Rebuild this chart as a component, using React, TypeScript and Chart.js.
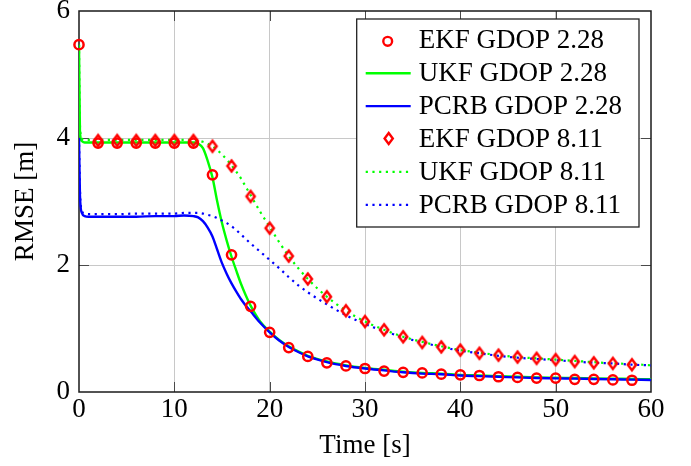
import React, { useEffect, useRef } from 'react';
import { Chart, registerables } from 'chart.js';

Chart.register(...registerables);

const FONT_FAMILY = '"Liberation Serif", "Times New Roman", Times, serif';
const FONT_SIZE = 27;

// ---- data ----
const xTickValues = [0, 10, 20, 30, 40, 50, 60];
const yTickValues = [0, 2, 4, 6];

const tCircle = [0, 2, 4, 6, 8, 10, 12, 14, 16, 18, 20, 22, 24, 26, 28, 30, 32, 34, 36, 38, 40, 42, 44, 46, 48, 50, 52, 54, 56, 58];
const ekf228 = [5.47, 3.92, 3.92, 3.92, 3.92, 3.92, 3.92, 3.42, 2.16, 1.35, 0.94, 0.70, 0.56, 0.46, 0.41, 0.37, 0.33, 0.31, 0.30, 0.28, 0.27, 0.26, 0.24, 0.23, 0.22, 0.22, 0.20, 0.20, 0.19, 0.185];

const tDiamond = [2, 4, 6, 8, 10, 12, 14, 16, 18, 20, 22, 24, 26, 28, 30, 32, 34, 36, 38, 40, 42, 44, 46, 48, 50, 52, 54, 56, 58];
const ekf811 = [3.96, 3.96, 3.96, 3.96, 3.96, 3.96, 3.87, 3.56, 3.08, 2.58, 2.14, 1.78, 1.50, 1.28, 1.11, 0.98, 0.87, 0.78, 0.71, 0.66, 0.61, 0.58, 0.55, 0.53, 0.51, 0.48, 0.46, 0.45, 0.43];

const tLine = [0, 0.1, 0.3, 0.6, 1, 2, 4, 6, 8, 10, 11, 12, 12.5, 13, 13.5, 14, 14.5, 15, 15.5, 16, 16.5, 17, 17.5, 18, 19, 20, 21, 22, 23, 24, 26, 28, 30, 32, 34, 36, 38, 40, 42, 44, 46, 48, 50, 52, 54, 56, 58, 60];
const ukf228 = [5.47, 4.10, 3.95, 3.93, 3.93, 3.93, 3.93, 3.93, 3.93, 3.93, 3.93, 3.93, 3.91, 3.84, 3.64, 3.38, 3.00, 2.66, 2.38, 2.13, 1.91, 1.70, 1.52, 1.36, 1.11, 0.95, 0.82, 0.72, 0.64, 0.57, 0.48, 0.42, 0.38, 0.35, 0.32, 0.30, 0.29, 0.27, 0.26, 0.25, 0.24, 0.23, 0.225, 0.22, 0.215, 0.21, 0.205, 0.20];
const pcrb228 = [4.00, 3.10, 2.82, 2.77, 2.76, 2.76, 2.76, 2.76, 2.77, 2.77, 2.78, 2.77, 2.75, 2.69, 2.59, 2.45, 2.24, 2.03, 1.86, 1.71, 1.58, 1.46, 1.36, 1.27, 1.09, 0.94, 0.81, 0.71, 0.63, 0.56, 0.47, 0.41, 0.37, 0.34, 0.31, 0.29, 0.28, 0.26, 0.25, 0.24, 0.23, 0.22, 0.215, 0.21, 0.205, 0.20, 0.195, 0.19];
const ukf811 = [5.47, 4.20, 3.99, 3.97, 3.97, 3.97, 3.97, 3.97, 3.97, 3.97, 3.97, 3.97, 3.96, 3.94, 3.91, 3.87, 3.81, 3.74, 3.66, 3.57, 3.47, 3.36, 3.23, 3.10, 2.84, 2.60, 2.36, 2.14, 1.95, 1.78, 1.50, 1.28, 1.11, 0.98, 0.87, 0.79, 0.72, 0.66, 0.62, 0.58, 0.55, 0.53, 0.51, 0.49, 0.47, 0.45, 0.44, 0.42];
const pcrb811 = [4.00, 3.20, 2.86, 2.81, 2.80, 2.80, 2.80, 2.81, 2.81, 2.81, 2.82, 2.82, 2.82, 2.81, 2.79, 2.77, 2.74, 2.70, 2.66, 2.61, 2.55, 2.48, 2.41, 2.34, 2.21, 2.08, 1.95, 1.81, 1.68, 1.57, 1.38, 1.21, 1.07, 0.96, 0.86, 0.78, 0.71, 0.65, 0.61, 0.57, 0.54, 0.52, 0.50, 0.48, 0.46, 0.45, 0.43, 0.42];

const labels = ['EKF GDOP 2.28', 'UKF GDOP 2.28', 'PCRB GDOP 2.28', 'EKF GDOP 8.11', 'UKF GDOP 8.11', 'PCRB GDOP 8.11'];

const RED = '#ff0000';
const GREEN = '#00ff00';
const BLUE = '#0000ff';
const DOT_DASH = [2.2, 4.5];

const pts = (xs: number[], ys: number[]) => xs.map((x, i) => ({ x, y: ys[i] }));

function drawDiamondPath(ctx: CanvasRenderingContext2D, cx: number, cy: number) {
  ctx.beginPath();
  ctx.moveTo(cx, cy - 5.4);
  ctx.lineTo(cx + 4.1, cy);
  ctx.lineTo(cx, cy + 5.4);
  ctx.lineTo(cx - 4.1, cy);
  ctx.closePath();
}

function makeDiamond(): HTMLCanvasElement {
  const c = document.createElement('canvas');
  c.width = 16;
  c.height = 18;
  const g = c.getContext('2d')!;
  g.strokeStyle = RED;
  g.lineWidth = 2.5;
  g.lineJoin = 'miter';
  drawDiamondPath(g, 8, 9);
  g.stroke();
  return c;
}

const framePlugin = {
  id: 'frame',
  beforeDatasetsDraw(chart: any) {
    const { ctx, chartArea: a, scales } = chart;
    ctx.save();
    ctx.strokeStyle = '#4a4a4a';
    ctx.lineWidth = 1;
    const xs = scales.x;
    const ys = scales.y;
    ctx.beginPath();
    xs.ticks.forEach((t: any) => {
      if (t.value <= xs.min || t.value >= xs.max) return;
      const px = Math.round(xs.getPixelForValue(t.value)) + 0.5;
      ctx.moveTo(px, a.bottom); ctx.lineTo(px, a.bottom - 10);
      ctx.moveTo(px, a.top); ctx.lineTo(px, a.top + 10);
    });
    ys.ticks.forEach((t: any) => {
      if (t.value <= ys.min || t.value >= ys.max) return;
      const py = Math.round(ys.getPixelForValue(t.value)) + 0.5;
      ctx.moveTo(a.left, py); ctx.lineTo(a.left + 10, py);
      ctx.moveTo(a.right, py); ctx.lineTo(a.right - 10, py);
    });
    ctx.stroke();
    ctx.strokeStyle = '#1a1a1a';
    ctx.lineWidth = 1.5;
    ctx.strokeRect(a.left, a.top, a.right - a.left, a.bottom - a.top);
    ctx.restore();
  },
};

const legendPlugin = {
  id: 'boxLegend',
  afterDraw(chart: any) {
    const { ctx, chartArea } = chart;
    const ds = chart.data.datasets;
    ctx.save();
    ctx.font = `${FONT_SIZE}px ${FONT_FAMILY}`;
    const maxW = Math.max(...ds.map((d: any) => ctx.measureText(d.label).width));
    const rowH = 32.9;
    const boxW = 62 + maxW + 17;
    const boxH = rowH * ds.length + 10.6;
    const right = chartArea.right - 12;
    const left = right - boxW;
    const top = chartArea.top + 8;
    ctx.fillStyle = '#ffffff';
    ctx.fillRect(left, top, boxW, boxH);
    ctx.strokeStyle = '#222222';
    ctx.lineWidth = 1.3;
    ctx.strokeRect(left, top, boxW, boxH);
    const textX = left + 62;
    ds.forEach((d: any, i: number) => {
      const base = top + 29.3 + i * rowH;
      const kind = d.legendKind;
      ctx.save();
      if (kind === 'circle') {
        ctx.strokeStyle = d.borderColor;
        ctx.lineWidth = 2.4;
        ctx.beginPath();
        ctx.arc(textX - 31, base - 7, 4.4, 0, Math.PI * 2);
        ctx.stroke();
      } else if (kind === 'diamond') {
        ctx.strokeStyle = d.borderColor;
        ctx.lineWidth = 2.4;
        drawDiamondPath(ctx, textX - 30, base - 8.5);
        ctx.stroke();
      } else {
        ctx.strokeStyle = d.borderColor;
        ctx.lineWidth = d.borderWidth;
        ctx.lineCap = 'butt';
        ctx.setLineDash(kind === 'dotted' ? DOT_DASH : []);
        ctx.beginPath();
        ctx.moveTo(textX - 53, base - 8);
        ctx.lineTo(textX - 8, base - 8);
        ctx.stroke();
      }
      ctx.restore();
      ctx.fillStyle = '#000';
      ctx.textAlign = 'left';
      ctx.textBaseline = 'alphabetic';
      ctx.fillText(d.label, textX, base);
    });
    ctx.restore();
  },
};

export default function App() {
  const ref = useRef<HTMLCanvasElement>(null);

  useEffect(() => {
    const canvas = ref.current;
    if (!canvas) return;
    const diamond = makeDiamond();
    const font = { family: FONT_FAMILY, size: FONT_SIZE };

    const lineBase = {
      pointRadius: 0,
      fill: false,
      cubicInterpolationMode: 'monotone' as const,
      borderCapStyle: 'butt' as const,
    };

    const datasets: any[] = [
      {
        label: labels[0], legendKind: 'circle', data: pts(tCircle, ekf228), showLine: false,
        borderColor: RED, backgroundColor: 'rgba(0,0,0,0)', pointBorderColor: RED,
        pointBackgroundColor: 'rgba(0,0,0,0)', pointRadius: 4.6, pointBorderWidth: 2.5,
        pointStyle: 'circle', order: 1, clip: false,
      },
      {
        ...lineBase, label: labels[1], legendKind: 'solid', data: pts(tLine, ukf228),
        borderColor: GREEN, borderWidth: 2.4, order: 5,
      },
      {
        ...lineBase, label: labels[2], legendKind: 'solid', data: pts(tLine, pcrb228),
        borderColor: BLUE, borderWidth: 2.4, order: 4,
      },
      {
        label: labels[3], legendKind: 'diamond', data: pts(tDiamond, ekf811), showLine: false,
        borderColor: RED, backgroundColor: 'rgba(0,0,0,0)', pointStyle: diamond,
        pointRadius: 5, order: 0, clip: false,
      },
      {
        ...lineBase, label: labels[4], legendKind: 'dotted', data: pts(tLine, ukf811),
        borderColor: GREEN, borderWidth: 2.2, borderDash: DOT_DASH, order: 3,
      },
      {
        ...lineBase, label: labels[5], legendKind: 'dotted', data: pts(tLine, pcrb811),
        borderColor: BLUE, borderWidth: 2.2, borderDash: DOT_DASH, order: 2,
      },
    ];

    const gridColor = (lo: number, hi: number) => (c: any) =>
      c.tick && (c.tick.value === lo || c.tick.value === hi) ? 'rgba(0,0,0,0)' : '#c8c8c8';

    const chart = new Chart(canvas, {
      type: 'line',
      data: { datasets },
      options: {
        animation: false,
        responsive: false,
        maintainAspectRatio: false,
        devicePixelRatio: 1,
        events: [],
        layout: { padding: { left: 0, right: 40, top: 11, bottom: 0 }, autoPadding: false } as any,
        scales: {
          x: {
            type: 'linear',
            min: xTickValues[0],
            max: xTickValues[xTickValues.length - 1],
            afterBuildTicks: (s: any) => { s.ticks = xTickValues.map((v) => ({ value: v })); },
            afterFit: (s: any) => { s.height = 74; s.paddingLeft = 0; s.paddingRight = 0; },
            ticks: { font, color: '#000', padding: 2, maxRotation: 0, autoSkip: false },
            grid: { color: gridColor(0, 60), drawTicks: false, lineWidth: 1 },
            border: { display: false },
            title: { display: true, text: 'Time [s]', font, color: '#000', padding: { top: 0, bottom: 4 } },
          },
          y: {
            type: 'linear',
            min: yTickValues[0],
            max: yTickValues[yTickValues.length - 1],
            afterBuildTicks: (s: any) => { s.ticks = yTickValues.map((v) => ({ value: v })); },
            afterFit: (s: any) => { s.width = 79; s.paddingTop = 0; s.paddingBottom = 0; },
            ticks: { font, color: '#000', padding: 9, autoSkip: false },
            grid: { color: gridColor(0, 6), drawTicks: false, lineWidth: 1 },
            border: { display: false },
            title: { display: true, text: 'RMSE [m]', font, color: '#000', padding: { top: 10, bottom: 0 } },
          },
        },
        plugins: {
          legend: { display: false },
          tooltip: { enabled: false },
        },
      } as any,
      plugins: [framePlugin, legendPlugin],
    });

    return () => chart.destroy();
  }, []);

  return (
    <div style={{ position: 'absolute', left: 0, top: 0, width: 691, height: 466, background: '#fff' }}>
      <canvas ref={ref} width={691} height={466} style={{ display: 'block' }} />
    </div>
  );
}
